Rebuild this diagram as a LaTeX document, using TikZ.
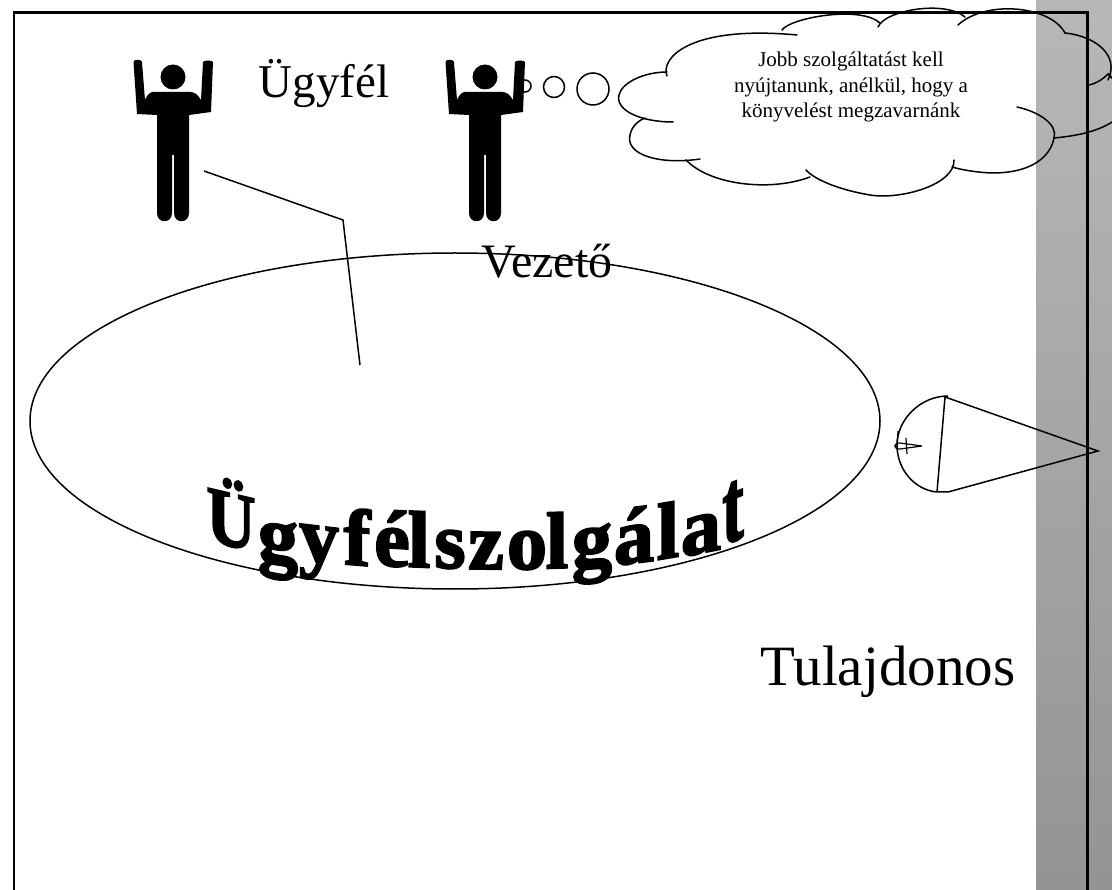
\documentclass[tikz,border=0pt]{standalone}
\usepackage{fontspec}
\setmainfont{Liberation Serif}
\newfontfamily\wafont[FakeBold=2.5]{Liberation Serif Bold}
\usetikzlibrary{shapes.geometric}
\definecolor{bandtop}{gray}{0.72}
\definecolor{bandbot}{gray}{0.58}
\tikzset{
  lbl/.style={inner sep=0pt,font=\fontsize{#1}{#1}\selectfont},
  linework/.style={draw=black,line width=1.5pt},
  cloudline/.style={draw=black,line width=1.5pt,line cap=round},
  frameline/.style={draw=black,line width=2.4pt},
  wa/.style={inner sep=0pt,anchor=base,font=\wafont\fontsize{#1}{#1}\selectfont},
  ring/.style={ellipse,draw=black,line width=1.5pt,inner sep=0pt,minimum width=#1,minimum height=#1}
}
\newcommand{\personfig}[1]{%
  \begin{scope}[xshift=#1pt]
  \fill[black] (173,77) circle (12.5);
  \fill[black] (133.5,62) .. controls (133.5,59) and (141.5,59) .. (142,62)
    -- (145,100) .. controls (147,95) and (150,92) .. (153,92)
    -- (190,92) .. controls (195,92) and (198,95) .. (201,100)
    -- (203,62) .. controls (203.5,60) and (212.5,60) .. (213,62)
    -- (211,112) -- (189,115) -- (189,213) .. controls (189,224) and (174,224) .. (174,213)
    -- (174,155) -- (172,155) -- (172,213) .. controls (172,224) and (157,224) .. (157,213)
    -- (157,115) -- (137,114) -- cycle;
  \end{scope}}
\begin{document}
\begin{tikzpicture}[x=1pt,y=-1pt]
\useasboundingbox (0,0) rectangle (1112,890);
\shade[top color=bandtop,bottom color=bandbot] (1036,0) rectangle (1112,890);
\draw[frameline] (14,890) -- (14,12.5) -- (1087.5,12.5) -- (1087.5,890);
\node[ring=12pt] (b1) at (525,86) {};
\personfig{0}
\personfig{312}
\node[lbl=47] (ugyfel) at (324,84) {Ügyfél};
\node[lbl=48] (vezeto) at (547,261) {Vezető};
\node[lbl=57] (tulaj) at (888,672) {Tulajdonos};
\node[ellipse,linework,minimum width=850pt,minimum height=336pt,inner sep=0pt] (main) at (455,421) {};
\coordinate (c1) at (204,171);
\coordinate (c2) at (343,220);
\coordinate (c3) at (360,365);
\draw[linework] (c1) -- (c2) -- (c3);
\node[ring=21pt] (b2) at (554,87) {};
\node[ring=32pt] (b3) at (593,89) {};
% cloud
\begin{scope}
\clip (0,0) rectangle (1112,890);
\draw[cloudline] (667,76) .. controls (660,58) and (690,25) .. (797,35);
\draw[cloudline] (782,30) .. controls (790,18) and (860,5) .. (880,23);
\draw[cloudline] (878,27) .. controls (885,10) and (945,0) .. (965,17);
\draw[cloudline] (958,25) .. controls (985,0) and (1050,5) .. (1065,33);
\draw[cloudline] (1065,33) .. controls (1095,36) and (1120,55) .. (1108,80);
\draw[cloudline] (1089,85) .. controls (1098,83) and (1104,78) .. (1108,74) -- (1118,84);
\draw[cloudline] (1017,107) .. controls (1040,112) and (1058,125) .. (1054,138);
\draw[cloudline] (1054,138) .. controls (1075,136) and (1100,132) .. (1118,118);
\draw[cloudline] (1054,138) .. controls (1052,150) and (1040,172) .. (995,173) .. controls (980,173) and (962,170) .. (952,167);
\draw[cloudline] (954,160) .. controls (955,185) and (900,200) .. (870,195) .. controls (840,190) and (815,180) .. (806,170);
\draw[cloudline] (810,177) .. controls (770,192) and (710,185) .. (686,160);
\draw[cloudline] (700,159) .. controls (660,165) and (625,155) .. (630,135) .. controls (632,125) and (640,120) .. (645,118);
\draw[cloudline] (673,122) .. controls (640,122) and (615,110) .. (619,95) .. controls (622,82) and (645,72) .. (667,72);
\end{scope}
\node[lbl=21,align=center,font=\fontsize{21}{25.5}\selectfont] (say) at (851,87) {Jobb szolgáltatást kell\\nyújtanunk, anélkül, hogy a\\könyvelést megzavarnánk};
% word art
\node[wa=80,xscale=.85,yslant=-.2] (w1) at (231,546) {Ü};
\node[wa=80,yslant=-.15] (w2) at (278,562) {g};
\node[wa=80,yslant=-.12] (w3) at (319,563) {y};
\node[wa=80,yslant=-.08] (w4) at (357,565) {f};
\node[wa=80,yslant=-.06] (w5) at (392,566) {é};
\node[wa=80,yslant=-.04] (w6) at (419,567) {l};
\node[wa=80,yslant=-.03] (w7) at (450,568) {s};
\node[wa=80,yslant=-.01] (w8) at (486,569) {z};
\node[wa=80,yslant=.01] (w9) at (527,569) {o};
\node[wa=80,yslant=.03] (w10) at (557,568) {l};
\node[wa=80,yslant=.08] (w11) at (592,566) {g};
\node[wa=80,yslant=.12] (w12) at (634,563) {á};
\node[wa=80,yslant=.17] (w13) at (668,558) {l};
\node[wa=80,yslant=.2] (w14) at (701,553) {a};
\node[wa=80,xscale=.8,yscale=1.3,yslant=.25] (w15) at (733,541) {t};
% cone
\coordinate (k1) at (948,396);
\coordinate (k2) at (945,397);
\coordinate (k3) at (937,492);
\coordinate (k4) at (948,492);
\coordinate (k5) at (1098,451);
\draw[linework] (k1) .. controls (920,396) and (897,420) .. (897,445) .. controls (897,470) and (915,490) .. (k3) -- (k4) -- (k5) -- (k2) -- (k3);
\draw[line width=1.2pt] (898,431) -- (897,447) (906,438) -- (907,454);
\draw[line width=1.2pt] (922,446) -- (900,443) .. controls (893,443) and (893,449) .. (900,449) -- (922,446);
\end{tikzpicture}
\end{document}
